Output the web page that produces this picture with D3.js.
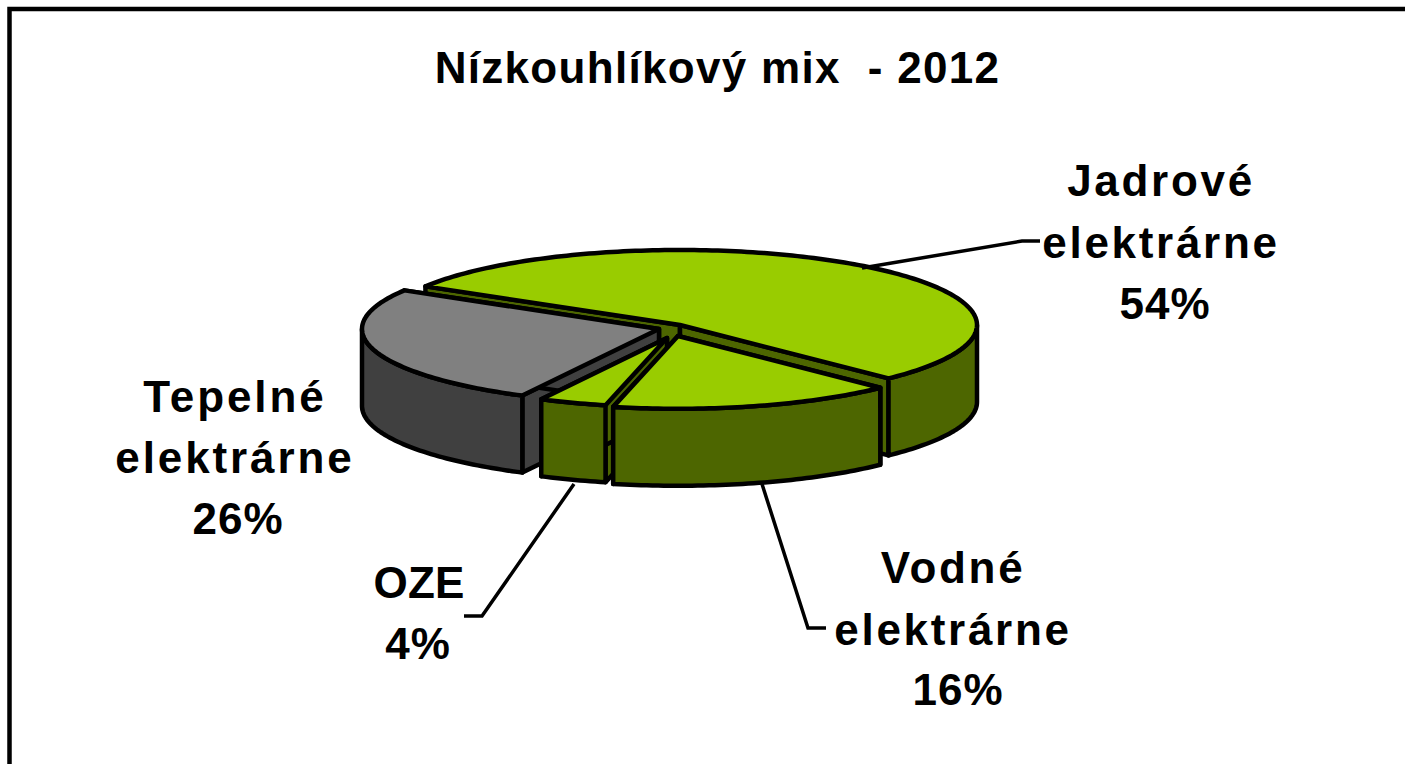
<!DOCTYPE html>
<html><head><meta charset="utf-8">
<script src="https://cdn.jsdelivr.net/npm/d3@7"></script>
<style>html,body{margin:0;padding:0;background:#fff;overflow:hidden}svg{display:block}
text{font-family:"Liberation Sans",Arial,sans-serif;font-weight:bold;fill:#000}</style>
</head><body>
<script>
const chartTitle = "Nízkouhlíkový mix  - 2012";
const categories = ["Jadrové elektrárne","Vodné elektrárne","OZE","Tepelné elektrárne"];
const shares = [54,16,4,26];
const topColors = ["#99cc00","#99cc00","#99cc00","#808080"];
const sideColors = ["#4d6600","#4d6600","#4d6600","#404040"];

const W=1405,H=764, rx=297, ry=75, depth=77, startDeg=-59;
const apex=[[680,325],[678,336],[667,338],[659,329]];
const radii=[1,0.97,0.92,1];
const drawOrder=[0,3,2,1];
const labelLayout=[
 {x:1161,y:[196,258,319],dx:2.7,px:1165},
 {x:953,y:[583,645,705],dx:2.7,px:958},
 {x:419,y:[598,659],dx:0.2,px:418},
 {x:235,y:[412,473,534],dx:2.9,px:238}];
const leaders=[[[862,268],[1022,241],[1040,241]],[[762,484],[808,628],[826,628]],[[574,484],[482,616],[464,616]]];

const svg=d3.select("body").append("svg").attr("width",W).attr("height",H);
svg.append("rect").attr("width",W).attr("height",H).attr("fill","#fff");
svg.append("path").attr("d",`M9.5 ${H+5}V9H${W+5}`).attr("fill","none").attr("stroke","#000").attr("stroke-width",4.5);

const arcs=d3.pie().sort(null).startAngle(startDeg*Math.PI/180).endAngle((startDeg+360)*Math.PI/180).value(d=>d)(shares);
const xS=d3.scaleLinear().domain([-1,1]).range([-rx,rx]);
const yS=d3.scaleLinear().domain([-1,1]).range([ry,-ry]);
function pt(i,a,r,z){return [apex[i][0]+xS(r*radii[i]*Math.sin(a)),apex[i][1]+yS(r*radii[i]*Math.cos(a))+z*depth];}
function arcPts(i,a0,a1,z){const n=Math.max(2,Math.ceil((a1-a0)/0.02));return d3.range(n+1).map(k=>pt(i,a0+(a1-a0)*k/n,1,z));}
const line=d3.line();
const g=svg.append("g").attr("stroke","#000").attr("stroke-width",4.5).attr("stroke-linejoin","round");

drawOrder.forEach(i=>{
  const d=arcs[i],a0=d.startAngle,a1=d.endAngle,slice=g.append("g");
  [a0,a1].forEach(a=>{
    slice.append("path").attr("fill",sideColors[i]).attr("d",line([pt(i,a,0,0),pt(i,a,1,0),pt(i,a,1,1),pt(i,a,0,1)])+"Z");
  });
  const v0=Math.max(a0,Math.PI/2),v1=Math.min(a1,Math.PI*1.5);
  if(v1>v0){
    const front=arcPts(i,v0,v1,0),back=arcPts(i,v0,v1,1).reverse();
    slice.append("path").attr("fill",sideColors[i]).attr("d",line(front.concat(back))+"Z");
  }
  slice.append("path").attr("fill",topColors[i]).attr("d",line([pt(i,a0,0,0)].concat(arcPts(i,a0,a1,0)))+"Z");
});

svg.append("g").selectAll("path").data(leaders).join("path").attr("d",d=>line(d)).attr("fill","none").attr("stroke","#000").attr("stroke-width",3.5);

svg.append("text").attr("x",717.5).attr("y",83).attr("text-anchor","middle").attr("font-size",44).attr("letter-spacing",1.3).style("white-space","pre").text(chartTitle);

categories.forEach((c,i)=>{
  const lines=c.split(" ").concat([shares[i]+"%"]);
  const l=labelLayout[i];
  lines.forEach((t,k)=>{
    const pct=/%/.test(t);
    svg.append("text").attr("x",pct?l.px:l.x).attr("y",l.y[k]).attr("text-anchor","middle").attr("font-size",44).attr("letter-spacing",pct?1:l.dx).text(t);
  });
});
</script>
</body></html>
